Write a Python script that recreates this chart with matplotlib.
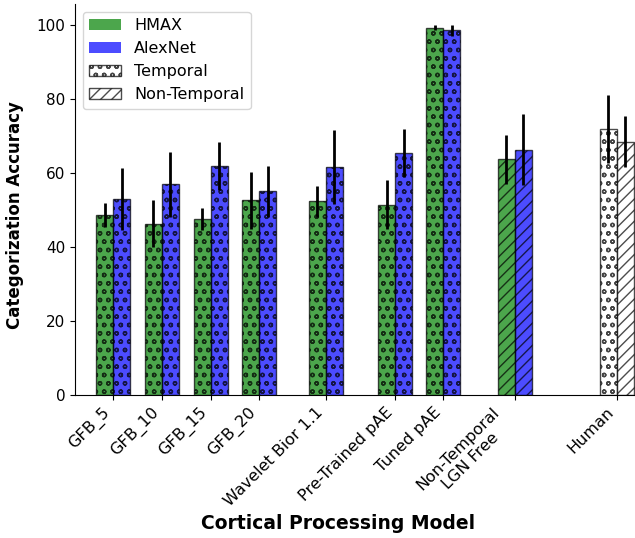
import matplotlib
matplotlib.use("Agg")
import matplotlib.pyplot as plt
from matplotlib.patches import Patch

categories = ["GFB_5", "GFB_10", "GFB_15", "GFB_20", "Wavelet Bior 1.1",
              "Pre-Trained pAE", "Tuned pAE", "Non-Temporal\nLGN Free", "Human"]
positions = [0, 1, 2, 3, 4.37, 5.8, 6.79, 8.26, 10.35]

hmax_vals = [48.7, 46.3, 47.5, 52.6, 52.3, 51.4, 99.2, 63.6]
hmax_err = [3.25, 6.3, 2.95, 7.65, 4.2, 6.7, 0.6, 6.5]
alex_vals = [52.9, 56.9, 61.8, 55.0, 61.5, 65.4, 98.5, 66.3]
alex_err = [8.4, 8.75, 6.5, 6.9, 10.0, 6.45, 1.55, 9.6]
temporal_flags = [True, True, True, True, True, True, True, False]

human_vals = [71.9, 68.4]
human_err = [9.2, 6.85]

width = 0.35
T_HATCH = "oo"
N_HATCH = "///"

fig = plt.figure(figsize=(6.35, 5.38), dpi=100)
ax = fig.add_axes([0.118, 0.2658, 0.882, 0.7268])

for i in range(len(hmax_vals)):
    x = positions[i]
    hatch = T_HATCH if temporal_flags[i] else N_HATCH
    ax.bar(x - width / 2, hmax_vals[i], width, color="green", alpha=0.7,
           edgecolor="black", hatch=hatch)
    ax.bar(x + width / 2, alex_vals[i], width, color="blue", alpha=0.7,
           edgecolor="black", hatch=hatch)
    ax.errorbar(x - width / 2, hmax_vals[i], yerr=hmax_err[i], fmt="none",
                ecolor="black", elinewidth=2)
    ax.errorbar(x + width / 2, alex_vals[i], yerr=alex_err[i], fmt="none",
                ecolor="black", elinewidth=2)

hx = positions[-1]
ax.bar(hx - width / 2, human_vals[0], width, color="white", alpha=0.7,
       edgecolor="black", hatch=T_HATCH)
ax.bar(hx + width / 2, human_vals[1], width, color="white", alpha=0.7,
       edgecolor="black", hatch=N_HATCH)
ax.errorbar(hx - width / 2, human_vals[0], yerr=human_err[0], fmt="none",
            ecolor="black", elinewidth=2)
ax.errorbar(hx + width / 2, human_vals[1], yerr=human_err[1], fmt="none",
            ecolor="black", elinewidth=2)

ax.set_xticks(positions)
ax.set_xticklabels(categories, rotation=45, ha="right",
                   fontsize=11.5, multialignment="center")
ax.set_xlim(-0.79, 10.73)
ax.set_ylim(0, 105.6)
ax.set_yticks([0, 20, 40, 60, 80, 100])
ax.tick_params(axis="y", labelsize=11)
ax.set_ylabel("Categorization Accuracy", fontsize=12, fontweight="bold")
ax.set_xlabel("Cortical Processing Model", fontsize=13.5, fontweight="bold")
ax.yaxis.set_label_coords(-0.091, 0.46)
ax.xaxis.set_label_coords(0.47, -0.305)
ax.spines["top"].set_visible(False)
ax.spines["right"].set_visible(False)

handles = [
    Patch(facecolor="green", alpha=0.7, label="HMAX"),
    Patch(facecolor="blue", alpha=0.7, label="AlexNet"),
    Patch(facecolor="white", edgecolor="black", alpha=0.7, hatch=T_HATCH, label="Temporal"),
    Patch(facecolor="white", edgecolor="black", alpha=0.7, hatch=N_HATCH, label="Non-Temporal"),
]
ax.legend(handles=handles, loc="upper left", fontsize=11.5)

fig.savefig("out.png", dpi=100)
